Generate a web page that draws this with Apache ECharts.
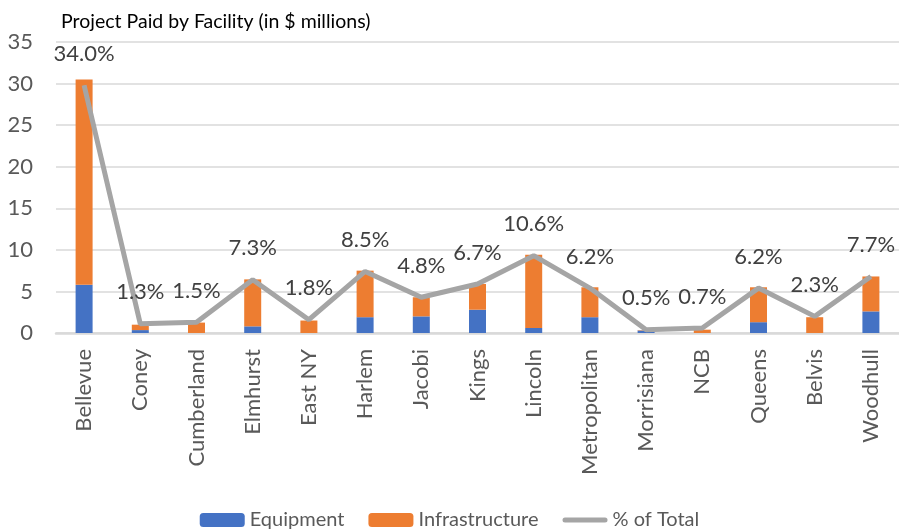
<!DOCTYPE html>
<html>
<head>
<meta charset="utf-8">
<script src="https://cdn.jsdelivr.net/npm/echarts@6/dist/echarts.min.js"></script>
<style>
  html, body { margin: 0; padding: 0; background: #fff; }
  #chart { width: 899px; height: 531px; }
</style>
</head>
<body>
<div id="chart"></div>
<script>
const categories = ['Bellevue', 'Coney', 'Cumberland', 'Elmhurst', 'East NY', 'Harlem', 'Jacobi', 'Kings',
  'Lincoln', 'Metropolitan', 'Morrisiana', 'NCB', 'Queens', 'Belvis', 'Woodhull'];
const equipment = [5.8, 0.35, 0, 0.8, 0, 1.9, 2.0, 2.8, 0.6, 1.9, 0.3, 0, 1.3, 0, 2.6];
const infrastructure = [24.7, 0.65, 1.25, 5.65, 1.5, 5.6, 2.3, 3.1, 8.8, 3.6, 0.05, 0.4, 4.2, 1.9, 4.2];
const pctLine = [29.8, 1.1, 1.3, 6.4, 1.6, 7.4, 4.3, 5.9, 9.3, 5.4, 0.4, 0.6, 5.4, 2.0, 6.8];
const pctLabels = ['34.0%', '1.3%', '1.5%', '7.3%', '1.8%', '8.5%', '4.8%', '6.7%',
  '10.6%', '6.2%', '0.5%', '0.7%', '6.2%', '2.3%', '7.7%'];
const yTicks = [0, 5, 10, 15, 20, 25, 30, 35];

const font = 'Lato, "Open Sans", sans-serif';

const myChart = echarts.init(document.getElementById('chart'));
const option = {
  backgroundColor: '#fff',
  animation: false,
  textStyle: { fontFamily: font },
  title: {
    text: 'Project Paid by Facility (in $ millions)',
    left: 56,
    top: 7,
    textStyle: { fontFamily: font, fontSize: 19.5, fontWeight: 'normal', color: '#000' }
  },
  legend: {
    left: 'center',
    top: 505,
    itemWidth: 45,
    itemHeight: 14,
    itemGap: 24,
    textStyle: { fontFamily: font, fontSize: 20, color: '#595959' },
    data: [
      'Equipment',
      'Infrastructure',
      { name: '% of Total', icon: 'path://M2.5,0 H42.5 A2.5,2.5 0 0 1 42.5,5 H2.5 A2.5,2.5 0 0 1 2.5,0 Z' }
    ]
  },
  grid: { left: 56, right: 0, top: 42, bottom: 198 },
  xAxis: {
    type: 'category',
    data: categories,
    axisLine: { lineStyle: { color: '#d9d9d9', width: 2.5 } },
    axisTick: { show: false },
    axisLabel: { rotate: 90, margin: 16, fontFamily: font, fontSize: 22, color: '#595959' }
  },
  yAxis: {
    type: 'value',
    min: yTicks[0],
    max: yTicks[yTicks.length - 1],
    interval: 5,
    axisLine: { show: false },
    axisTick: { show: false },
    axisLabel: { margin: 23, fontFamily: font, fontSize: 22, color: '#595959' },
    splitLine: { lineStyle: { color: '#d9d9d9', width: 1.5 } }
  },
  series: [
    {
      name: 'Equipment',
      type: 'bar',
      stack: 'paid',
      barWidth: 17,
      itemStyle: { color: '#4472c4' },
      data: equipment
    },
    {
      name: 'Infrastructure',
      type: 'bar',
      stack: 'paid',
      barWidth: 17,
      itemStyle: { color: '#ed7d31' },
      data: infrastructure
    },
    {
      name: '% of Total',
      type: 'line',
      symbol: 'circle',
      symbolSize: 1,
      showSymbol: true,
      lineStyle: { color: '#a5a5a5', width: 5 },
      itemStyle: { color: '#a5a5a5' },
      label: {
        show: true,
        position: 'top',
        distance: 20,
        fontFamily: font,
        fontSize: 22,
        color: '#404040',
        formatter: p => pctLabels[p.dataIndex]
      },
      data: pctLine
    }
  ]
};
myChart.setOption(option);
</script>
</body>
</html>
